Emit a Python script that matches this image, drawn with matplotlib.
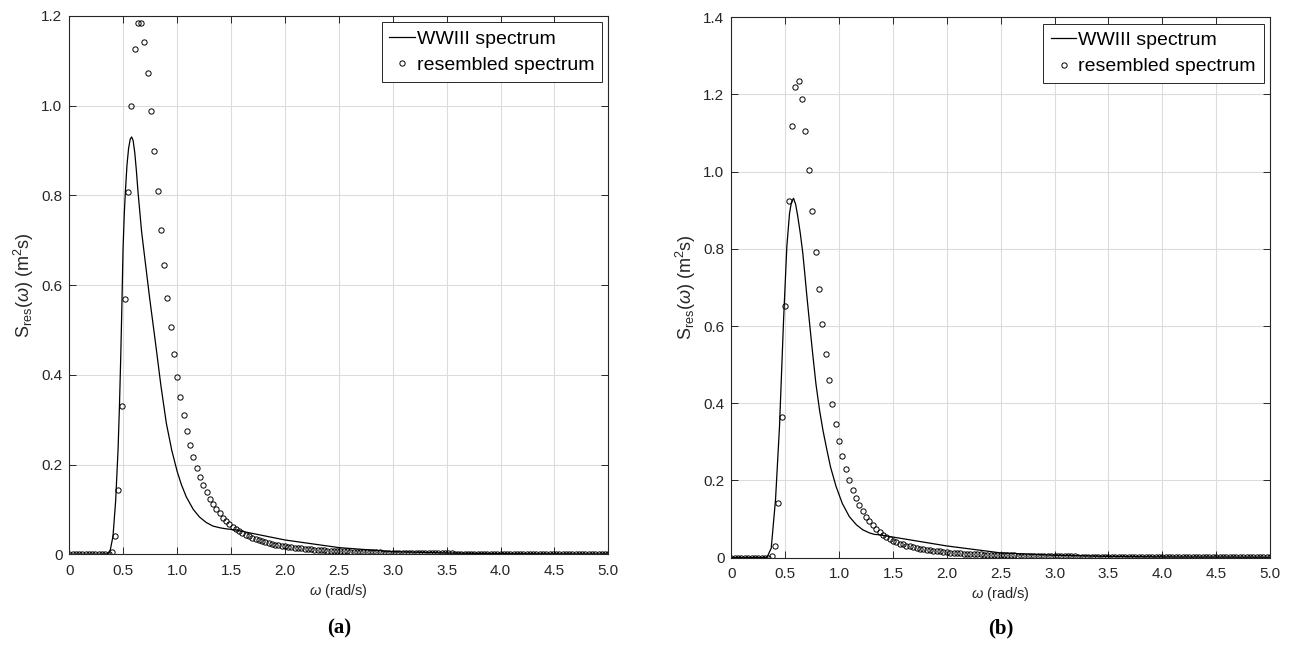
import matplotlib
matplotlib.use("Agg")
import matplotlib.pyplot as plt
import numpy as np

plt.rcParams['font.family'] = ['Liberation Sans', 'DejaVu Sans']
plt.rcParams['mathtext.fontset'] = 'custom'
plt.rcParams['mathtext.rm'] = 'Liberation Sans'
plt.rcParams['mathtext.it'] = 'Liberation Sans:italic'

# ---- panel (a) ----
# WWIII spectrum (line)
w_line_a = [0.0, 0.30, 0.36, 0.38, 0.405, 0.43, 0.452, 0.465, 0.477, 0.488, 0.498,
            0.51, 0.52, 0.535, 0.55, 0.565, 0.578, 0.592, 0.607, 0.622, 0.637, 0.655,
            0.67, 0.70, 0.745, 0.80, 0.85, 0.90, 0.95, 1.0, 1.04, 1.085, 1.15, 1.208,
            1.27, 1.332, 1.40, 1.45, 1.55, 1.67, 2.0, 2.5, 3.0, 3.5, 4.0, 5.0]
s_line_a = [0.0, 0.0, 0.001, 0.01, 0.04, 0.12, 0.233, 0.33, 0.44, 0.56, 0.678,
            0.76, 0.808, 0.868, 0.905, 0.925, 0.93, 0.922, 0.895, 0.855, 0.808, 0.76,
            0.72, 0.66, 0.571, 0.47, 0.375, 0.292, 0.232, 0.185, 0.155, 0.128, 0.10, 0.083,
            0.071, 0.063, 0.059, 0.057, 0.054, 0.048, 0.032, 0.015, 0.006, 0.003, 0.0015, 0.0006]

# resembled spectrum (markers), 166 samples between 0 and 5 rad/s
s_res_a = ([0.0] * 13 + [
    0.006, 0.041, 0.144, 0.330, 0.569, 0.808, 1.000, 1.125, 1.183, 1.183,
    1.141, 1.072, 0.988, 0.899, 0.810, 0.723, 0.645, 0.572, 0.506, 0.447,
    0.396, 0.351, 0.311, 0.275, 0.244, 0.217, 0.193, 0.173, 0.154, 0.138,
    0.124, 0.112, 0.101, 0.092, 0.082, 0.075, 0.068, 0.062, 0.056, 0.052,
    0.048, 0.044, 0.040, 0.037, 0.034, 0.031, 0.029, 0.027, 0.025, 0.023,
    0.021, 0.020, 0.019, 0.018, 0.017, 0.016, 0.015, 0.014, 0.0132, 0.0124,
    0.0117, 0.0110, 0.0104, 0.0098, 0.0093, 0.0088, 0.0084, 0.0080, 0.0076, 0.0073,
    0.0070, 0.0067, 0.0064, 0.0061, 0.0058, 0.0055, 0.0053, 0.0050, 0.0048, 0.0046,
    0.0044, 0.0042, 0.0041, 0.0039, 0.0038, 0.0036, 0.0035, 0.0034, 0.0033, 0.0032,
    0.0031, 0.0030, 0.0029, 0.0028, 0.0027, 0.0026, 0.0025, 0.0024, 0.0023, 0.0022,
    0.0022, 0.0021, 0.0020, 0.0019, 0.0019, 0.0018, 0.0017, 0.0017, 0.0016, 0.0016,
    0.0015, 0.0015, 0.0014, 0.0014, 0.0013, 0.0013, 0.0012, 0.0012, 0.0012, 0.0011,
    0.0011, 0.0011, 0.0010, 0.0010, 0.0010, 0.0009, 0.0009, 0.0009, 0.0009, 0.0008,
    0.0008, 0.0008, 0.0008, 0.0007, 0.0007, 0.0007, 0.0007, 0.0007, 0.0006, 0.0006,
    0.0006, 0.0006, 0.0006, 0.0006, 0.0005, 0.0005, 0.0005, 0.0005, 0.0005, 0.0005,
    0.0005, 0.0005, 0.0004])
w_res_a = np.linspace(0, 5, len(s_res_a))

# ---- panel (b) ----
w_line_b = [0.0, 0.33, 0.37, 0.41, 0.447, 0.485, 0.515, 0.54, 0.557, 0.577, 0.597,
            0.617, 0.64, 0.663, 0.68, 0.70, 0.725, 0.756, 0.785, 0.818, 0.85, 0.88,
            0.92, 0.972, 1.03, 1.095, 1.16, 1.219, 1.28, 1.327, 1.37,
            2.0, 2.5, 3.0, 3.5, 4.0, 5.0]
s_line_b = [0.0, 0.0, 0.024, 0.15, 0.34, 0.618, 0.806, 0.892, 0.92, 0.931, 0.915,
            0.883, 0.84, 0.789, 0.74, 0.68, 0.61, 0.525, 0.45, 0.383, 0.33, 0.288,
            0.235, 0.184, 0.14, 0.106, 0.085, 0.072, 0.064, 0.060, 0.059,
            0.030, 0.012, 0.006, 0.003, 0.0015, 0.0008]

# resembled spectrum (markers), 171 samples between 0 and 5 rad/s
s_res_b = ([0.0] * 12 + [
    0.004, 0.030, 0.142, 0.364, 0.652, 0.924, 1.119, 1.219, 1.234, 1.189,
    1.106, 1.004, 0.897, 0.793, 0.695, 0.605, 0.528, 0.459, 0.398, 0.345,
    0.301, 0.263, 0.229, 0.201, 0.176, 0.155, 0.136, 0.120, 0.106, 0.094,
    0.084, 0.074, 0.066, 0.058, 0.052, 0.047, 0.043, 0.039, 0.036, 0.034,
    0.031, 0.029, 0.027, 0.025, 0.023, 0.021, 0.020, 0.019, 0.018, 0.017,
    0.016, 0.015, 0.014, 0.013, 0.012, 0.0115, 0.0110, 0.0104, 0.0098, 0.0093,
    0.0088, 0.0084, 0.0080, 0.0076, 0.0072, 0.0069, 0.0066, 0.0063, 0.0061, 0.0059,
    0.0057, 0.0055, 0.0053, 0.0051, 0.0049, 0.0047, 0.0045, 0.0043, 0.0042, 0.0040,
    0.0039, 0.0037, 0.0036, 0.0035, 0.0034, 0.0032, 0.0031, 0.0030, 0.0029, 0.0028,
    0.0027, 0.0026, 0.0025, 0.0025, 0.0024, 0.0023, 0.0022, 0.0022, 0.0021, 0.0020,
    0.0020, 0.0019, 0.0019, 0.0018, 0.0018, 0.0017, 0.0017, 0.0016, 0.0016, 0.0015,
    0.0015, 0.0014, 0.0014, 0.0014, 0.0013, 0.0013, 0.0013, 0.0012, 0.0012, 0.0012,
    0.0011, 0.0011, 0.0011, 0.0011, 0.0010, 0.0010, 0.0010, 0.0010, 0.0009, 0.0009,
    0.0009, 0.0009, 0.0009, 0.0008, 0.0008, 0.0008, 0.0008, 0.0008, 0.0007, 0.0007,
    0.0007, 0.0007, 0.0007, 0.0007, 0.0006, 0.0006, 0.0006, 0.0006, 0.0006])
w_res_b = np.linspace(0, 5, len(s_res_b))

x_ticks = [0, 0.5, 1.0, 1.5, 2.0, 2.5, 3.0, 3.5, 4.0, 4.5, 5.0]
x_ticklabels = ['0', '0.5', '1.0', '1.5', '2.0', '2.5', '3.0', '3.5', '4.0', '4.5', '5.0']
y_ticks_a = [0, 0.2, 0.4, 0.6, 0.8, 1.0, 1.2]
y_ticklabels_a = ['0', '0.2', '0.4', '0.6', '0.8', '1.0', '1.2']
y_ticks_b = [0, 0.2, 0.4, 0.6, 0.8, 1.0, 1.2, 1.4]
y_ticklabels_b = ['0', '0.2', '0.4', '0.6', '0.8', '1.0', '1.2', '1.4']

axcol = '#262626'
fig = plt.figure(figsize=(12.91, 6.53), dpi=100)
ax_a = fig.add_axes([0.0537, 0.1511, 0.4175, 0.8248])
ax_b = fig.add_axes([0.5665, 0.1462, 0.4173, 0.8273])

panels = [
    (ax_a, w_line_a, s_line_a, w_res_a, s_res_a, y_ticks_a, y_ticklabels_a, 1.2, '(a)'),
    (ax_b, w_line_b, s_line_b, w_res_b, s_res_b, y_ticks_b, y_ticklabels_b, 1.4, '(b)'),
]

for ax, wl, sl, wr, sr, yt, ytl, ymax, tag in panels:
    ax.plot(wl, sl, color='black', lw=0.9, label='WWIII spectrum')
    ax.plot(wr, sr, ls='none', marker='o', ms=3.8, mfc='none', mec='black',
            mew=0.7, label='resembled spectrum')
    ax.set_xlim(0, 5)
    ax.set_ylim(0, ymax)
    ax.set_xticks(x_ticks)
    ax.set_xticklabels(x_ticklabels)
    ax.set_yticks(yt)
    ax.set_yticklabels(ytl)
    ax.grid(True, color='#dcdcdc', lw=0.8)
    ax.set_axisbelow(True)
    ax.tick_params(direction='in', length=5, width=0.7, top=True, right=True,
                   labelsize=11, colors=axcol)
    ax.tick_params(axis='x', pad=7)
    ax.tick_params(axis='y', pad=5)
    for sp in ax.spines.values():
        sp.set_color(axcol)
        sp.set_linewidth(0.8)
    ax.set_xlabel(r'$\omega$ (rad/s)', fontsize=10.5, color=axcol, labelpad=3)
    ax.set_ylabel(r'S$_{\rm res}$($\omega$) (m$^2$s)', fontsize=13, color=axcol, labelpad=4)
    leg = ax.legend(loc='upper right', fontsize=14, handlelength=1.3, handletextpad=0.1,
                    borderaxespad=0.33, borderpad=0.4, labelspacing=0.45, fancybox=False,
                    framealpha=1)
    leg.get_frame().set_edgecolor(axcol)
    leg.get_frame().set_linewidth(0.7)
    pos = ax.get_position()
    fig.text(pos.x0 + pos.width / 2, 0.037, tag, ha='center', va='center',
             fontsize=15, fontweight='bold', family='Liberation Serif')

fig.savefig('out.png', dpi=100)
